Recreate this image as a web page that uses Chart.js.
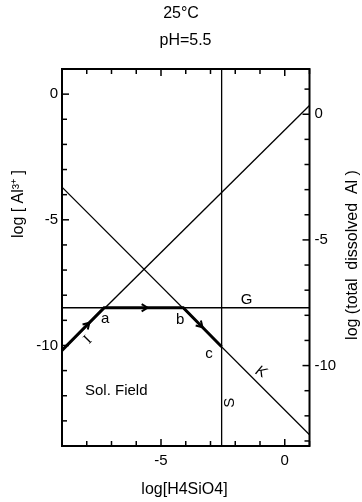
<!DOCTYPE html>
<html>
<head>
<meta charset="utf-8">
<script src="https://cdn.jsdelivr.net/npm/chart.js@4.4.0/dist/chart.umd.min.js"></script>
<style>
  html, body { margin: 0; padding: 0; background: #fff; }
</style>
</head>
<body>
<canvas id="diagram" width="362" height="502"></canvas>
<script>
// Stability lines, log[Al3+] against log[H4SiO4]
const lineK = [[-9, -3.7], [1, -13.55]];
const lineI = [[-9, -10.2], [1, -0.45]];
const lineG = [[-9, -8.5], [1, -8.5]];
const lineS = [[-2.55, -14], [-2.55, 1]];
// reaction path: start -> a -> b -> c
const reactionPath = [[-9, -10.2], [-7.3, -8.5], [-4.1, -8.5], [-2.55, -10.05]];

const xTickLabels = [-5, 0];
const yTickLabels = [0, -5, -10];
const y2TickLabels = [0, -5, -10];
// whole-number steps on the right-hand (total dissolved Al) axis
const y2TickValues = [1, 0, -1, -2, -3, -4, -5, -6, -7, -8, -9, -10, -11, -12, -13];

const FONT = "'Liberation Sans', Arial, sans-serif";

// text placed on the diagram, in data units
const marks = [
  { text: 'a', x: -7.26, y: -8.95 },
  { text: 'b', x: -4.23, y: -8.99 },
  { text: 'c', x: -3.06, y: -10.34 },
  { text: 'G', x: -1.54, y: -8.19 },
  { text: 'S', x: -2.21, y: -12.28, rot: -Math.PI / 2 },
  { text: 'K', x: -0.96, y: -11.06, rot: 0.5, italic: true },
  { text: 'I', x: -7.95, y: -9.78, rot: -Math.PI / 4, serif: true },
  { text: 'Sol. Field', x: -8.07, y: -11.8, align: 'left' }
];
// where the arrowheads sit along each leg of the path
const arrowAt = [0.65, 0.55, 0.5];

const pts = arr => arr.map(p => ({ x: p[0], y: p[1] }));
const thin = arr => ({
  data: pts(arr), showLine: true, borderColor: '#000', borderWidth: 1.3,
  pointRadius: 0, yAxisID: 'y'
});

const decor = {
  id: 'decor',
  afterDatasetsDraw(chart) {
    const { ctx, chartArea: a, scales } = chart;
    ctx.save();
    ctx.strokeStyle = '#000';
    ctx.fillStyle = '#000';
    const seg = (x1, y1, x2, y2) => { ctx.beginPath(); ctx.moveTo(x1, y1); ctx.lineTo(x2, y2); ctx.stroke(); };

    // frame
    ctx.lineWidth = 2;
    ctx.strokeRect(a.left, a.top, a.right - a.left, a.bottom - a.top);

    // inward ticks
    ctx.lineWidth = 1.5;
    scales.x.ticks.forEach(t => {
      if (!Number.isInteger(t.value)) return;
      const px = scales.x.getPixelForValue(t.value);
      const len = xTickLabels.includes(t.value) ? 7 : 5;
      seg(px, a.bottom, px, a.bottom - len);
      seg(px, a.top, px, a.top + len);
    });
    scales.y.ticks.forEach(t => {
      if (!Number.isInteger(t.value)) return;
      const py = scales.y.getPixelForValue(t.value);
      seg(a.left, py, a.left + (yTickLabels.includes(t.value) ? 7 : 5), py);
    });
    scales.y2.ticks.forEach(t => {
      const py = scales.y2.getPixelForValue(t.value);
      seg(a.right, py, a.right - (y2TickLabels.includes(t.value) ? 7 : 5), py);
    });

    // arrowheads on the reaction path
    const path = chart.getDatasetMeta(4).data;
    ctx.lineWidth = 2;
    arrowAt.forEach((f, i) => {
      const p0 = path[i], p1 = path[i + 1];
      const tx = p0.x + (p1.x - p0.x) * f, ty = p0.y + (p1.y - p0.y) * f;
      const ang = Math.atan2(p1.y - p0.y, p1.x - p0.x);
      [0.55, -0.55].forEach(d => {
        seg(tx, ty, tx - 7 * Math.cos(ang + d), ty - 7 * Math.sin(ang + d));
      });
    });

    // labels
    ctx.textBaseline = 'middle';
    marks.forEach(m => {
      const px = scales.x.getPixelForValue(m.x);
      const py = scales.y.getPixelForValue(m.y);
      ctx.save();
      ctx.translate(px, py);
      if (m.rot) ctx.rotate(m.rot);
      ctx.textAlign = m.align || 'center';
      ctx.font = (m.italic ? 'italic ' : '') + '15px ' + (m.serif ? "'Liberation Serif', serif" : FONT);
      ctx.fillText(m.text, 0, 0);
      ctx.restore();
    });
    ctx.restore();
  },
  afterDraw(chart) {
    const { ctx } = chart;
    ctx.save();
    ctx.fillStyle = '#000';
    ctx.textAlign = 'center';
    ctx.textBaseline = 'middle';
    ctx.font = '16px ' + FONT;
    ctx.fillText('25°C', 181, 14);
    ctx.fillText('pH=5.5', 185.5, 41);
    ctx.fillText('log[H4SiO4]', 184.5, 490);

    ctx.save();
    ctx.translate(19, 204);
    ctx.rotate(-Math.PI / 2);
    ctx.fillText('log [ Al³⁺ ]', 0, 0);
    ctx.restore();

    ctx.save();
    ctx.translate(353, 255);
    ctx.rotate(-Math.PI / 2);
    ctx.fillText('log (total  dissolved  Al )', 0, 0);
    ctx.restore();
    ctx.restore();
  }
};

const tickFont = { family: FONT, size: 15 };
const labelled = list => v => list.includes(v) ? String(v) : '';

new Chart(document.getElementById('diagram'), {
  type: 'scatter',
  data: {
    datasets: [
      thin(lineK), thin(lineI), thin(lineG), thin(lineS),
      { data: pts(reactionPath), showLine: true, borderColor: '#000', borderWidth: 3,
        pointRadius: 0, yAxisID: 'y' }
    ]
  },
  options: {
    responsive: false,
    animation: false,
    layout: { padding: { top: 69, left: 0, right: 0, bottom: 0 } },
    plugins: { legend: { display: false }, tooltip: { enabled: false } },
    scales: {
      x: {
        type: 'linear', min: -9, max: 1,
        grid: { display: false, drawTicks: false }, border: { display: false },
        ticks: { stepSize: 1, autoSkip: false, maxRotation: 0, padding: 6, color: '#000',
                 font: tickFont, callback: labelled(xTickLabels) },
        afterFit(s) { s.height = 56; }
      },
      y: {
        position: 'left', min: -14, max: 1,
        grid: { display: false, drawTicks: false }, border: { display: false },
        ticks: { stepSize: 1, autoSkip: false, padding: 4, color: '#000',
                 font: tickFont, callback: labelled(yTickLabels) },
        afterFit(s) { s.width = 62; }
      },
      y2: {
        position: 'right', min: -13.2, max: 1.8,
        grid: { display: false, drawTicks: false }, border: { display: false },
        afterBuildTicks(s) { s.ticks = y2TickValues.map(v => ({ value: v })); },
        ticks: { autoSkip: false, padding: 5, color: '#000',
                 font: tickFont, callback: labelled(y2TickLabels) },
        afterFit(s) { s.width = 52.5; }
      }
    }
  },
  plugins: [decor]
});
</script>
</body>
</html>
